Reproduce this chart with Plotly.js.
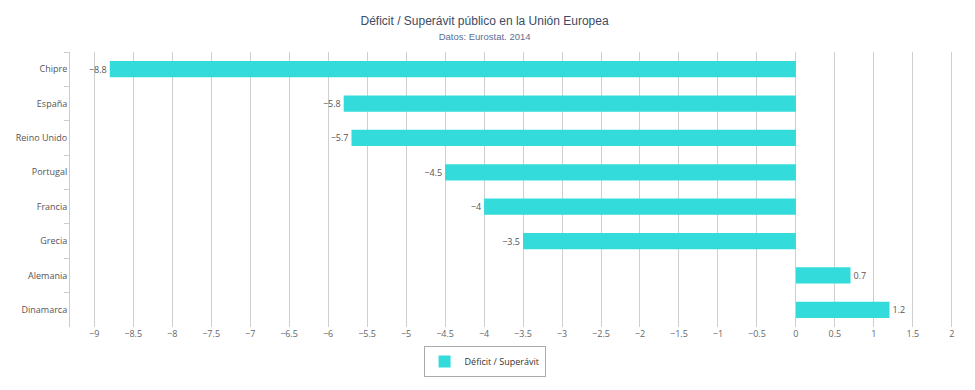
<!DOCTYPE html>
<html>
<head>
<meta charset="utf-8">
<script src="https://cdn.plot.ly/plotly-3.0.1.min.js"></script>
<style>html,body{margin:0;padding:0;background:#fff;}#chart{width:975px;height:390px;}</style>
</head>
<body>
<div id="chart"></div>
<script>
const countries = ["Chipre", "España", "Reino Unido", "Portugal", "Francia", "Grecia", "Alemania", "Dinamarca"];
const balance = [-8.8, -5.8, -5.7, -4.5, -4, -3.5, 0.7, 1.2];
const seriesName = "Déficit / Superávit";
const xTicks = [-9, -8.5, -8, -7.5, -7, -6.5, -6, -5.5, -5, -4.5, -4, -3.5, -3, -2.5, -2, -1.5, -1, -0.5, 0, 0.5, 1, 1.5, 2];

const labels = balance.map(v => String(v).replace('-', '\u2212'));
const tickText = xTicks.map(v => String(v).replace('-', '\u2212'));

const baseFont = 'Open Sans, DejaVu Sans, sans-serif';

const trace = {
  type: 'bar',
  orientation: 'h',
  y: countries,
  x: balance,
  name: seriesName,
  text: labels,
  textposition: 'outside',
  cliponaxis: false,
  textfont: {family: baseFont, size: 9, color: '#555'},
  marker: {color: 'rgb(51,219,219)'},
  hoverinfo: 'x+y'
};

const layout = {
  width: 975, height: 390,
  margin: {l: 70, r: 20, t: 52, b: 63, autoexpand: false},
  paper_bgcolor: '#fff', plot_bgcolor: '#fff',
  font: {family: baseFont, size: 9, color: '#555'},
  title: {
    text: 'Déficit / Superávit público en la Unión Europea<br><span style="font-size:9.5px;color:#5a6e94">Datos: Eurostat. 2014</span>',
    font: {family: 'Liberation Sans, Arial, sans-serif', size: 12, color: '#3d4a63'},
    x: 0.497, xanchor: 'center', y: 0.937, yanchor: 'top'
  },
  bargap: 0.53,
  showlegend: true,
  legend: {
    orientation: 'h', xref: 'container', yref: 'container',
    x: 0.497, xanchor: 'center', y: 0.113, yanchor: 'top',
    bordercolor: '#aaa', borderwidth: 1,
    itemwidth: 30, tracegroupgap: 0,
    font: {family: baseFont, size: 9, color: '#333'}
  },
  xaxis: {
    range: [-9.31, 2.04],
    tickvals: xTicks, ticktext: tickText,
    showgrid: true, gridcolor: '#cfcfcf', gridwidth: 1,
    zeroline: false, showline: false,
    ticks: '', ticklen: 0,
    tickfont: {size: 9, color: '#666'},
    fixedrange: true
  },
  yaxis: {
    type: 'category',
    autorange: 'reversed',
    showgrid: false, zeroline: false,
    showline: true, linecolor: '#ccc', linewidth: 1,
    ticks: 'outside', tickson: 'boundaries', ticklen: 5, tickcolor: '#ccc',
    tickfont: {size: 9, color: '#555'},
    fixedrange: true
  }
};

Plotly.newPlot('chart', [trace], layout, {displayModeBar: false, staticPlot: true});
</script>
</body>
</html>
